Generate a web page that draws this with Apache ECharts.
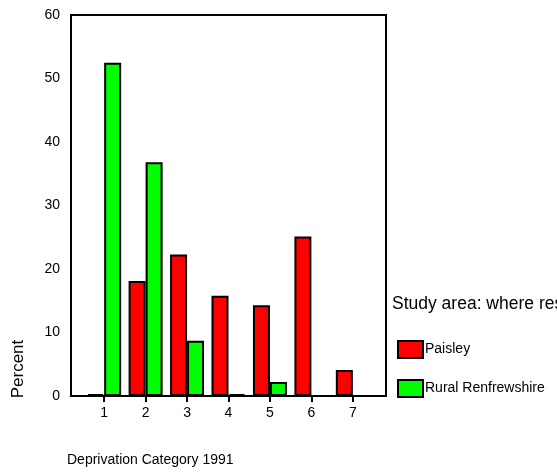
<!DOCTYPE html>
<html>
<head>
<meta charset="utf-8">
<script src="https://cdn.jsdelivr.net/npm/echarts@6/dist/echarts.min.js"></script>
<style>html,body{margin:0;padding:0;background:#fff}#c{width:557px;height:472px}</style>
</head>
<body>
<div id="c"></div>
<script>
const categories = [1, 2, 3, 4, 5, 6, 7];
const paisley = [0.3, 18.1, 22.3, 15.8, 14.3, 25.1, 4.1];
const rural = [52.5, 36.8, 8.7, 0.3, 2.2, 0, 0];
const yTicks = [0, 10, 20, 30, 40, 50, 60];
const seriesNames = ['Paisley', 'Rural Renfrewshire'];
const legendTitle = 'Study area: where respondent lives';
const xTitle = 'Deprivation Category 1991';
const yTitle = 'Percent';

const FONT = '"Liberation Sans", Arial, sans-serif';
const chart = echarts.init(document.getElementById('c'), null, {renderer: 'canvas'});
const mk = arr => categories.map((c, i) => [c, arr[i]]);
const barStyle = color => ({color: color, borderColor: '#000', borderWidth: 2});

chart.setOption({
  animation: false,
  backgroundColor: '#fff',
  textStyle: {fontFamily: FONT},
  title: [
    {text: xTitle, left: 67, top: 453, textStyle: {fontSize: 14, fontWeight: 'normal', color: '#000', fontFamily: FONT}, padding: 0},
    {text: legendTitle, left: 392, top: 295, textStyle: {fontSize: 17.5, fontWeight: 'normal', color: '#000', fontFamily: FONT}, padding: 0}
  ],
  graphic: [{
    type: 'text', x: 18, y: 369, rotation: Math.PI / 2,
    style: {text: yTitle, font: '17px ' + FONT, fill: '#000', align: 'center', verticalAlign: 'middle'}
  }],
  legend: {
    orient: 'vertical', left: 397, top: 340, itemWidth: 25, itemHeight: 17, itemGap: 20,
    icon: 'rect', padding: 0,
    itemStyle: {borderColor: '#000', borderWidth: 2},
    textStyle: {fontSize: 14, color: '#000', fontFamily: FONT, padding: [0, 0, 0, -3]},
    data: seriesNames
  },
  grid: {left: 71, right: 171, top: 15, bottom: 76, show: true, borderColor: '#000', borderWidth: 2, containLabel: false},
  xAxis: {
    type: 'value', min: 0.2, max: 7.8,
    axisLine: {show: true, lineStyle: {color: '#000', width: 2}},
    axisTick: {show: true, length: 6, lineStyle: {color: '#000', width: 2}, customValues: categories},
    axisLabel: {customValues: categories, color: '#000', fontSize: 14, margin: 10, fontFamily: FONT},
    splitLine: {show: false}
  },
  yAxis: {
    type: 'value', min: 0, max: 60, interval: 10,
    axisLine: {show: true, lineStyle: {color: '#000', width: 2}},
    axisTick: {show: false},
    axisLabel: {color: '#000', fontSize: 14, margin: 11, fontFamily: FONT,
      customValues: yTicks},
    splitLine: {show: false}
  },
  series: [
    {name: seriesNames[0], type: 'bar', data: mk(paisley), barWidth: 17, barGap: '0%', itemStyle: barStyle('#ff0000')},
    {name: seriesNames[1], type: 'bar', data: mk(rural), barWidth: 17, barGap: '0%', itemStyle: barStyle('#00ff00')}
  ]
});
</script>
</body>
</html>
